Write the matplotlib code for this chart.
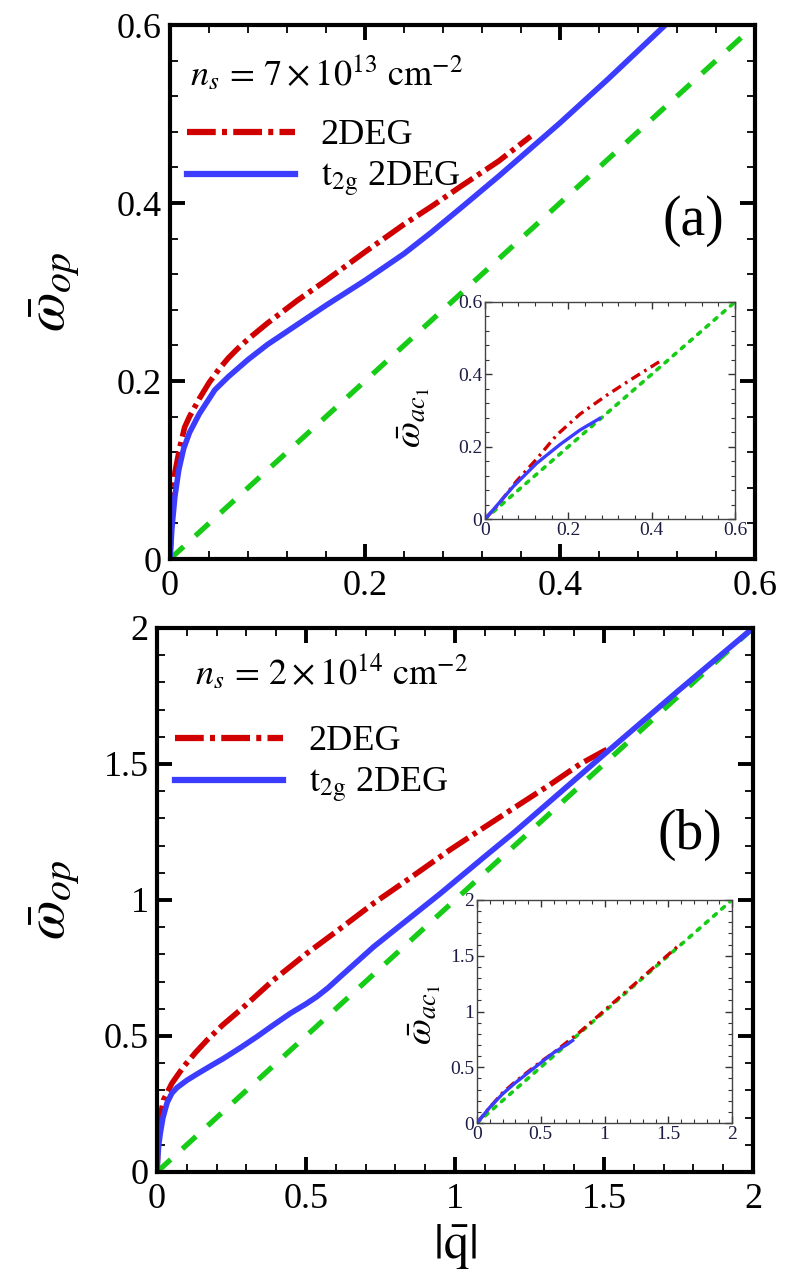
import matplotlib
matplotlib.use('Agg')
import matplotlib.pyplot as plt
import numpy as np

plt.rcParams['font.family'] = 'serif'
plt.rcParams['font.serif'] = ['Liberation Serif', 'DejaVu Serif']
plt.rcParams['mathtext.fontset'] = 'stix'

RED = '#d00000'
BLUE = '#3c3cff'
GREEN = '#16cc16'

# ---- panel (a): n_s = 7e13
a_q_2deg = [0, 0.002, 0.005, 0.01, 0.015, 0.02, 0.03, 0.04, 0.05, 0.06, 0.07, 0.08, 0.1,
            0.13, 0.16, 0.2, 0.24, 0.268, 0.3, 0.337, 0.37]
a_w_2deg = [0, 0.05, 0.097, 0.125, 0.148, 0.16, 0.18, 0.198, 0.213, 0.226, 0.237, 0.247, 0.265,
            0.29, 0.313, 0.345, 0.376, 0.396, 0.42, 0.447, 0.475]
a_q_t2g = [0, 0.002, 0.005, 0.009, 0.014, 0.02, 0.03, 0.046, 0.06, 0.08, 0.1, 0.13, 0.16, 0.2,
           0.24, 0.268, 0.3, 0.337, 0.4, 0.45, 0.508]
a_w_t2g = [0, 0.035, 0.07, 0.1, 0.124, 0.142, 0.163, 0.19, 0.205, 0.224, 0.241, 0.263, 0.285,
           0.313, 0.343, 0.367, 0.396, 0.43, 0.49, 0.54, 0.6]
a_q_light = [0, 0.6]
a_w_light = [0, 0.6]

# inset (a): acoustic branch
ai_q_2deg = [0, 0.028, 0.076, 0.124, 0.172, 0.228, 0.292, 0.348, 0.424]
ai_w_2deg = [0, 0.035, 0.105, 0.166, 0.232, 0.29, 0.342, 0.384, 0.439]
ai_q_t2g = [0, 0.02, 0.068, 0.124, 0.18, 0.228, 0.275]
ai_w_t2g = [0, 0.026, 0.09, 0.154, 0.206, 0.246, 0.278]
ai_q_light = [0, 0.6]
ai_w_light = [0, 0.6]

# ---- panel (b): n_s = 2e14
b_q_2deg = [0, 0.005, 0.01, 0.022, 0.05, 0.089, 0.13, 0.168, 0.22, 0.28, 0.391, 0.503, 0.615,
            0.727, 0.839, 0.984, 1.095, 1.2, 1.32, 1.42, 1.52]
b_w_2deg = [0, 0.15, 0.2, 0.265, 0.326, 0.387, 0.44, 0.485, 0.54, 0.596, 0.706, 0.804, 0.895,
            0.988, 1.073, 1.185, 1.265, 1.34, 1.425, 1.5, 1.56]
b_q_t2g = [0, 0.003, 0.006, 0.011, 0.02, 0.034, 0.05, 0.067, 0.1, 0.134, 0.18, 0.224, 0.28,
           0.336, 0.39, 0.447, 0.5, 0.537, 0.575, 0.615, 0.727, 0.839, 0.951, 1.1, 1.2, 1.3,
           1.4, 1.5, 1.75, 2.0]
b_w_t2g = [0, 0.06, 0.1, 0.142, 0.2, 0.255, 0.29, 0.31, 0.337, 0.36, 0.39, 0.418, 0.457,
           0.498, 0.54, 0.583, 0.618, 0.645, 0.678, 0.718, 0.828, 0.926, 1.024, 1.16, 1.25, 1.345,
           1.44, 1.535, 1.77, 2.0]
b_q_light = [0, 2]
b_w_light = [0, 2]

bi_q_2deg = [0, 0.1, 0.2, 0.3, 0.4, 0.5, 0.6, 0.7, 0.8, 0.9, 1.0, 1.1, 1.2, 1.3, 1.4, 1.5, 1.6]
bi_w_2deg = [0, 0.14, 0.27, 0.37, 0.46, 0.55, 0.63, 0.72, 0.81, 0.91, 1.01, 1.11, 1.21, 1.31,
             1.41, 1.51, 1.61]
bi_q_t2g = [0, 0.1, 0.2, 0.3, 0.4, 0.5, 0.6, 0.7, 0.75]
bi_w_t2g = [0, 0.14, 0.26, 0.36, 0.45, 0.54, 0.63, 0.70, 0.74]
bi_q_light = [0, 2]
bi_w_light = [0, 2]

W, H = 790, 1279
fig = plt.figure(figsize=(W / 100, H / 100), dpi=100)


def box(x0, y0, x1, y1):
    return [x0 / W, 1 - y1 / H, (x1 - x0) / W, (y1 - y0) / H]


dashdot = (0, (4.6, 1.0, 0.8, 1.0))
dashed = (0, (3.5, 3))


def main_axes(rect, lim, major, minor, ticklabels):
    ax = fig.add_axes(rect)
    ax.set_xlim(0, lim)
    ax.set_ylim(0, lim)
    ax.set_xticks(major)
    ax.set_yticks(major)
    ax.set_xticklabels(ticklabels)
    ax.set_yticklabels(ticklabels)
    ax.set_xticks(np.arange(0, lim + 1e-9, minor), minor=True)
    ax.set_yticks(np.arange(0, lim + 1e-9, minor), minor=True)
    ax.tick_params(which='both', direction='in', top=True, right=True, labelsize=26)
    ax.tick_params(which='major', length=11, width=2.8)
    ax.tick_params(which='minor', length=6, width=1.3)
    ax.tick_params(axis='x', pad=8)
    ax.tick_params(axis='y', pad=6)
    for s in ax.spines.values():
        s.set_linewidth(3)
    return ax


def inset_axes(rect, lim, major, minor, ticklabels):
    ax = fig.add_axes(rect)
    ax.set_xlim(0, lim)
    ax.set_ylim(0, lim)
    ax.set_xticks(major)
    ax.set_yticks(major)
    ax.set_xticklabels(ticklabels)
    ax.set_yticklabels(ticklabels)
    ax.set_xticks(np.arange(0, lim + 1e-9, minor), minor=True)
    ax.set_yticks(np.arange(0, lim + 1e-9, minor), minor=True)
    ax.tick_params(which='both', direction='in', top=True, right=True, labelsize=14,
                   colors='#333333', labelcolor='#1c1c44', pad=2)
    ax.tick_params(which='major', length=5, width=1)
    ax.tick_params(which='minor', length=3, width=0.8)
    for s in ax.spines.values():
        s.set_linewidth(1)
        s.set_color('#444444')
    return ax


def add_legend(ax, x0, y0):
    # anchor given in figure pixels
    bb = ax.get_position()
    ax_x0, ax_y1 = bb.x0 * W, (1 - bb.y0) * H
    ax_w, ax_h = bb.width * W, bb.height * H
    leg = ax.legend(loc='upper left',
                    bbox_to_anchor=((x0 - ax_x0) / ax_w, (ax_y1 - y0) / ax_h),
                    frameon=False, fontsize=26, handlelength=3.0, handletextpad=0.7,
                    labelspacing=0.22, borderpad=0, borderaxespad=0)
    for ln in leg.get_lines():
        ln.set_linewidth(4.5)
    return leg


# ---------------- panel (a)
ax1 = main_axes(box(170, 25, 755, 559), 0.6, [0, 0.2, 0.4, 0.6], 0.04,
                ['0', '0.2', '0.4', '0.6'])
ax1.plot(a_q_light, a_w_light, color=GREEN, lw=3.8, linestyle=dashed, clip_on=False)
ax1.plot(a_q_2deg, a_w_2deg, color=RED, lw=4, linestyle=dashdot, label='2DEG')
ax1.plot(a_q_t2g, a_w_t2g, color=BLUE, lw=4, label=r'$\mathrm{t}_{\mathrm{2g}}$ 2DEG')
ax1.set_ylabel(r'$\bar{\omega}_{op}$', fontsize=41)
ax1.yaxis.set_label_coords(-0.15, 0.5)
ax1.text(0.034, 0.91, r'$n_s\,=\,7\times10^{13}\ \mathrm{cm}^{-2}$', transform=ax1.transAxes,
         fontsize=26, va='center', ha='left')
ax1.text(0.894, 0.633, '(a)', transform=ax1.transAxes, fontsize=40, ha='center', va='center')
add_legend(ax1, 187, 119)

axi1 = inset_axes(box(485, 302, 735, 519), 0.6, [0, 0.2, 0.4, 0.6], 0.04,
                  ['0', '0.2', '0.4', '0.6'])
axi1.plot(ai_q_light, ai_w_light, color=GREEN, lw=2.6, linestyle=(0, (1, 2)),
          dash_capstyle='round')
axi1.plot(ai_q_2deg, ai_w_2deg, color=RED, lw=2.4, linestyle=(0, (3, 1.5, 0.8, 1.5)))
axi1.plot(ai_q_t2g, ai_w_t2g, color=BLUE, lw=2.4)
axi1.set_ylabel(r'$\bar{\omega}_{ac_1}$', fontsize=27)
axi1.yaxis.set_label_coords(-0.212, 0.465)

# ---------------- panel (b)
ax2 = main_axes(box(157, 628, 753, 1172), 2, [0, 0.5, 1, 1.5, 2], 0.1,
                ['0', '0.5', '1', '1.5', '2'])
ax2.plot(b_q_light, b_w_light, color=GREEN, lw=3.8, linestyle=dashed)
ax2.plot(b_q_2deg, b_w_2deg, color=RED, lw=4, linestyle=dashdot, label='2DEG')
ax2.plot(b_q_t2g, b_w_t2g, color=BLUE, lw=4, label=r'$\mathrm{t}_{\mathrm{2g}}$ 2DEG')
ax2.set_ylabel(r'$\bar{\omega}_{op}$', fontsize=41)
ax2.yaxis.set_label_coords(-0.126, 0.5)
ax2.set_xlabel(r'$|\bar{\mathrm{q}}|$', fontsize=36)
ax2.xaxis.set_label_coords(0.5, -0.092)
ax2.text(0.064, 0.919, r'$n_s\,=\,2\times10^{14}\ \mathrm{cm}^{-2}$', transform=ax2.transAxes,
         fontsize=26, va='center', ha='left')
ax2.text(0.894, 0.619, '(b)', transform=ax2.transAxes, fontsize=40, ha='center', va='center')
add_legend(ax2, 175, 725)

axi2 = inset_axes(box(477, 900, 732, 1123), 2, [0, 0.5, 1, 1.5, 2], 0.1,
                  ['0', '0.5', '1', '1.5', '2'])
axi2.plot(bi_q_light, bi_w_light, color=GREEN, lw=2.6, linestyle=(0, (1, 2)),
          dash_capstyle='round')
axi2.plot(bi_q_2deg, bi_w_2deg, color=RED, lw=2.4, linestyle=(0, (3, 1.5, 0.8, 1.5)))
axi2.plot(bi_q_t2g, bi_w_t2g, color=BLUE, lw=2.4)
axi2.set_ylabel(r'$\bar{\omega}_{ac_1}$', fontsize=27)
axi2.yaxis.set_label_coords(-0.133, 0.484)

fig.savefig('out.png', dpi=100)
